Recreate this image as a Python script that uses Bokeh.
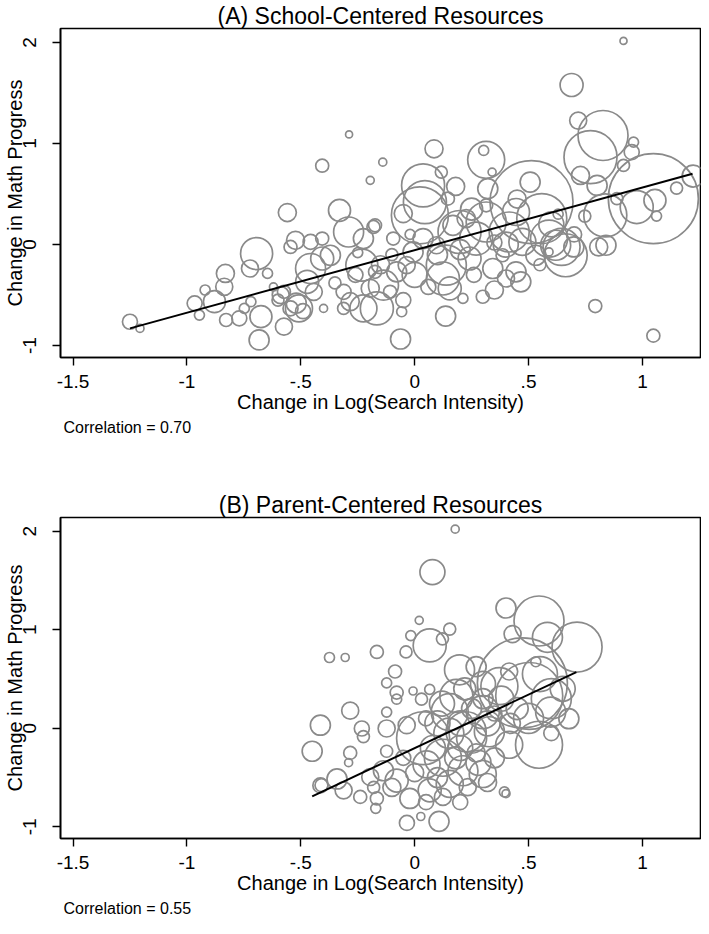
import numpy as np
from bokeh.plotting import figure
from bokeh.layouts import column
from bokeh.models import Range1d, FixedTicker, Title, ColumnDataSource
from bokeh.embed import file_html
from bokeh.resources import INLINE

# ---------------- Panel A: School-Centered Resources ----------------
a_x = [-1.25, -1.206, -0.288, -0.406, -0.195, -0.14, -0.559, -0.33, -0.694, -0.723,
       -0.646, -0.831, -0.836, -0.879, -0.966, -0.945, -0.828, -0.77, -0.748, -0.719,
       -0.675, -0.683, -0.574, -0.588, -0.545, -0.508, -0.523, -0.457, -0.406, -0.545,
       -0.457, -0.406, -0.37, -0.472, -0.443, -0.574, -0.4, -0.29, -0.232, -0.225,
       -0.181, -0.312, -0.283, -0.225, -0.195, -0.174, -0.312,
       0.917, 0.689, 0.718, 0.827, 0.772, 0.728, 0.801, 0.961, 0.953, 0.917,
       1.048, 1.223, 1.15, 1.055, 1.062, 0.975, 0.888, 0.837, 0.747, 0.808,
       0.84, 0.793, 1.048, 0.513, 0.558, 0.645, 0.59, 0.507, 0.314, 0.303,
       0.34, 0.321, 0.314, 0.085, 0.117, 0.18, 0.037, 0.023, 0.045, 0.146,
       -0.05, -0.174, -0.094, 0.197, 0.314, 0.27, 0.415, 0.445, 0.473, 0.139,
       0.124, 0.154, 0.241, 0.343, 0.445, 0.466, 0.299, 0.212, 0.136, -0.062,
       -0.057, -0.137, -0.079, -0.035, -0.007, -0.108, -0.166, 0.037, 0.096, 0.168,
       0.226, 0.619, 0.699, 0.663, 0.532, 0.59, 0.386, 0.401,
       -0.52, -0.49, -0.6, -0.35, -0.26, -0.1, -0.62, -0.92, 0.06, 0.26,
       0.55, 0.35, -0.02, 0.63, -0.25,
       0.0, 0.1, 0.2, 0.35, -0.15, 0.25, 0.4, 0.45, 0.6, 0.7, -0.05]
a_y = [-0.764, -0.83, 1.09, 0.78, 0.635, 0.815, 0.316, 0.338, -0.089, -0.237,
       -0.286, -0.286, -0.418, -0.566, -0.582, -0.698, -0.747, -0.73, -0.632, -0.566,
       -0.714, -0.944, -0.813, -0.5, -0.632, -0.632, 0.042, 0.026, 0.059, -0.024,
       -0.237, -0.138, -0.106, -0.369, -0.468, -0.468, -0.632, 0.124, -0.204, 0.059,
       0.174, -0.468, -0.566, -0.632, -0.434, -0.27, -0.632,
       2.015, 1.579, 1.227, 1.079, 0.865, 0.684, 0.585, 1.013, 0.914, 0.783,
       0.454, 0.677, 0.559, 0.437, 0.282, 0.371, 0.454, 0.289, 0.282, -0.024,
       -0.007, -0.609, -0.902, 0.42, 0.257, -0.024, 0.059, 0.618, 0.838, 0.931,
       0.717, 0.553, 0.388, 0.947, 0.717, 0.575, 0.585, 0.289, 0.42, 0.454,
       0.306, 0.19, 0.059, 0.124, 0.223, 0.059, 0.124, 0.322, 0.026, -0.204,
       -0.336, -0.434, -0.138, -0.237, -0.27, -0.369, -0.517, -0.533, -0.708, -0.935,
       -0.665, -0.402, -0.27, -0.204, -0.073, -0.468, -0.632, 0.059, -0.007, 0.19,
       0.257, -0.007, -0.024, -0.106, -0.106, -0.073, -0.106, -0.336,
       -0.58, -0.66, -0.55, -0.38, -0.3, -0.1, -0.42, -0.45, -0.42, -0.3,
       -0.2, 0.02, 0.1, 0.3, -0.08,
       -0.3, -0.1, -0.05, -0.45, -0.2, 0.35, 0.0, 0.45, 0.2, 0.1, -0.55]
a_w = [2.25, 0.64, 0.49, 1.69, 0.64, 0.64, 3.24, 4.84, 10.24, 2.89,
       1.0, 3.24, 2.89, 4.84, 2.25, 1.0, 1.69, 2.25, 1.0, 1.0,
       4.84, 4.0, 2.89, 2.89, 2.25, 7.29, 3.24, 2.25, 1.69, 1.69,
       9.0, 5.29, 4.0, 5.29, 2.89, 1.69, 0.64, 9.0, 10.24, 4.0,
       1.69, 2.25, 3.24, 7.29, 3.24, 1.69, 1.44,
       0.49, 5.29, 2.89, 25.0, 28.09, 3.24, 4.0, 1.0, 2.25, 1.44,
       81.0, 4.84, 1.44, 4.84, 1.0, 10.89, 1.44, 18.49, 1.44, 3.24,
       4.0, 1.69, 1.69, 68.89, 25.0, 13.69, 13.69, 4.0, 13.69, 1.0,
       0.64, 4.0, 1.69, 3.24, 1.44, 3.24, 18.49, 32.49, 18.49, 1.69,
       3.24, 1.69, 1.69, 18.49, 16.0, 10.89, 16.0, 7.29, 7.29, 16.0,
       10.89, 5.29, 5.29, 4.0, 4.0, 4.0, 1.69, 1.0, 4.0, 4.0,
       1.0, 9.0, 4.0, 2.89, 4.0, 1.69, 10.89, 4.0, 2.89, 4.0,
       3.24, 9.0, 4.0, 18.49, 4.0, 0.64, 1.69, 2.89,
       4.0, 2.25, 1.44, 1.44, 2.25, 1.44, 0.64, 1.0, 2.25, 2.25,
       1.44, 2.25, 1.0, 1.0, 1.0,
       6.25, 4.0, 4.0, 3.24, 3.24, 4.84, 6.25, 3.24, 6.25, 2.25, 2.25]
a_fit_x = [-1.25, 1.22]
a_fit_y = [-0.83, 0.70]
a_corr = "Correlation = 0.70"

# ---------------- Panel B: Parent-Centered Resources ----------------
b_x = [0.178, 0.078, 0.401, 0.546, 0.713, 0.583, 0.43, 0.02, 0.154, 0.066,
       -0.017, 0.122, -0.038, -0.166, -0.374, -0.305, 0.473, 0.503, 0.372, 0.197,
       0.27, 0.415, 0.532, 0.546, 0.597, 0.677, -0.086, -0.123, -0.079, -0.079,
       -0.007, 0.03, 0.066, -0.283, -0.123, -0.414, -0.232, -0.225, -0.123, -0.45,
       -0.283, -0.29, -0.123, -0.035, 0.037, 0.154, 0.183, 0.226, 0.299, 0.328,
       0.415, 0.124, 0.052, 0.212, 0.299, 0.394, 0.154, 0.066, -0.079, -0.137,
       -0.195, -0.341, -0.414, -0.312, -0.239, -0.166, -0.021, 0.124, 0.233, 0.107,
       0.027, -0.034, -0.171, 0.401, -0.409,
       0.1, 0.25, 0.2, 0.3, 0.05, 0.35, -0.05, 0.1, 0.27, -0.18,
       0.45, 0.65, 0.6,
       0.15, 0.2, 0.25, 0.32, 0.08, 0.18, 0.28, 0.35, 0.12, 0.22,
       0.3, 0.0, -0.1, 0.05, 0.2, 0.32, 0.38, 0.42, 0.5, 0.55, 0.6]
b_y = [2.02, 1.584, 1.22, 1.088, 0.824, 0.923, 0.956, 1.095, 1.006, 0.84,
       0.94, 0.907, 0.774, 0.774, 0.718, 0.718, 0.46, 0.328, 0.427, 0.593,
       0.625, 0.576, 0.675, -0.167, 0.164, 0.097, 0.576, 0.46, 0.362, 0.295,
       0.378, 0.295, 0.394, 0.179, 0.164, 0.031, -0.002, -0.084, -0.002, -0.233,
       -0.25, -0.349, -0.233, 0.031, -0.101, 0.164, 0.328, -0.035, 0.164, -0.035,
       -0.167, -0.299, -0.366, -0.431, -0.464, -0.646, -0.564, -0.629, -0.53, -0.431,
       -0.494, -0.514, -0.58, -0.629, -0.696, -0.712, -0.712, -0.696, -0.597, -0.944,
       -0.895, -0.96, -0.812, -0.663, -0.577,
       0.05, 0.2, -0.2, 0.3, 0.1, 0.15, -0.3, -0.5, -0.25, -0.6,
       0.2, 0.4, -0.05,
       -0.05, 0.05, -0.1, 0.05, -0.2, -0.3, -0.35, -0.3, 0.25, 0.4,
       0.45, -0.45, -0.6, -0.75, -0.75, -0.55, 0.3, 0.05, 0.1, 0.55, 0.3]
b_w = [0.64, 6.25, 4.0, 25.0, 25.0, 9.0, 2.89, 0.64, 1.44, 10.89,
       1.0, 1.44, 1.44, 1.69, 1.0, 0.64, 81.0, 44.89, 13.69, 9.0,
       4.0, 2.89, 1.0, 22.09, 9.0, 4.0, 1.69, 1.0, 1.69, 1.0,
       0.64, 1.44, 1.0, 2.89, 1.0, 4.0, 2.25, 1.44, 2.89, 4.0,
       1.69, 0.64, 1.44, 2.89, 28.09, 13.69, 10.89, 16.0, 10.89, 9.0,
       7.29, 13.69, 7.29, 9.0, 7.29, 1.0, 7.29, 5.29, 5.29, 4.0,
       2.89, 4.0, 2.25, 2.89, 1.69, 1.69, 4.0, 2.89, 2.89, 4.0,
       0.64, 2.25, 1.0, 0.64, 1.69,
       6.25, 4.0, 6.25, 4.0, 2.25, 2.25, 2.25, 4.0, 3.24, 1.44,
       4.84, 6.25, 2.25,
       9.0, 6.25, 9.0, 6.25, 6.25, 4.84, 6.25, 4.0, 6.25, 4.84,
       6.25, 3.24, 3.24, 2.25, 2.25, 3.24, 6.25, 4.0, 9.0, 12.25, 16.0]
b_fit_x = [-0.45, 0.71]
b_fit_y = [-0.69, 0.57]
b_corr = "Correlation = 0.55"

x_ticks = [-1.5, -1, -0.5, 0, 0.5, 1]
x_tick_labels = ["-1.5", "-1", "-.5", "0", ".5", "1"]
y_ticks = [-1, 0, 1, 2]
y_tick_labels = ["-1", "0", "1", "2"]

FONT = "Liberation Sans"
GRAY = "#8a8a8a"


def make_panel(title, xs, ys, ws, fx, fy, corr, height, top, bottom):
    p = figure(width=701, height=height, output_backend="svg", toolbar_location=None,
               x_range=Range1d(-1.555, 1.255), y_range=Range1d(-1.118, 2.138),
               min_border_left=50, min_border_right=1,
               min_border_top=top, min_border_bottom=bottom)
    p.title.text = title
    p.title.align = "center"
    p.title.text_font = FONT
    p.title.text_font_size = "23px"
    p.title.text_font_style = "normal"
    p.title.text_color = "black"
    p.title.standoff = 0
    p.grid.visible = False
    p.outline_line_color = "black"
    p.outline_line_width = 1.6
    p.outline_line_alpha = 1
    p.background_fill_color = "white"
    p.border_fill_color = "white"

    size = [10.0 * np.sqrt(w) for w in ws]
    src = ColumnDataSource(dict(x=xs, y=ys, s=size))
    p.scatter("x", "y", size="s", source=src, marker="circle", fill_color=None,
              line_color=GRAY, line_width=1.7)
    p.line(fx, fy, line_color="black", line_width=2)

    for ax in (p.xaxis[0], p.yaxis[0]):
        ax.axis_line_color = "black"
        ax.axis_line_width = 1.6
        ax.major_tick_line_color = "black"
        ax.major_tick_line_width = 1.4
        ax.major_tick_out = 8
        ax.major_tick_in = 0
        ax.minor_tick_line_color = None
        ax.major_label_text_font = FONT
        ax.major_label_text_font_size = "19px"
        ax.major_label_text_color = "black"
        ax.axis_label_text_font = FONT
        ax.axis_label_text_font_size = "20px"
        ax.axis_label_text_font_style = "normal"
        ax.axis_label_text_color = "black"

    p.xaxis.ticker = FixedTicker(ticks=x_ticks)
    p.xaxis.major_label_overrides = dict(zip(x_ticks, x_tick_labels))
    p.xaxis.axis_label = "Change in Log(Search Intensity)"
    p.xaxis.major_label_standoff = 9
    p.xaxis.axis_label_standoff = 0

    p.yaxis.ticker = FixedTicker(ticks=y_ticks)
    p.yaxis.major_label_overrides = dict(zip(y_ticks, y_tick_labels))
    p.yaxis.major_label_orientation = "vertical"
    p.yaxis.axis_label = "Change in Math Progress"
    p.yaxis.major_label_standoff = 16
    p.yaxis.axis_label_standoff = -5

    note = Title(text=corr, align="left", text_font=FONT, text_font_size="16px",
                 text_font_style="normal", text_color="black", offset=3, standoff=3)
    p.add_layout(note, "below")
    return p


pA = make_panel("(A) School-Centered Resources", a_x, a_y, a_w, a_fit_x, a_fit_y,
                a_corr, 483, 27, 126)
pB = make_panel("(B) Parent-Centered Resources", b_x, b_y, b_w, b_fit_x, b_fit_y,
                b_corr, 435, 34, 80)

layout = column(pA, pB, spacing=0)
open("out.html", "w").write(file_html(layout, INLINE))
